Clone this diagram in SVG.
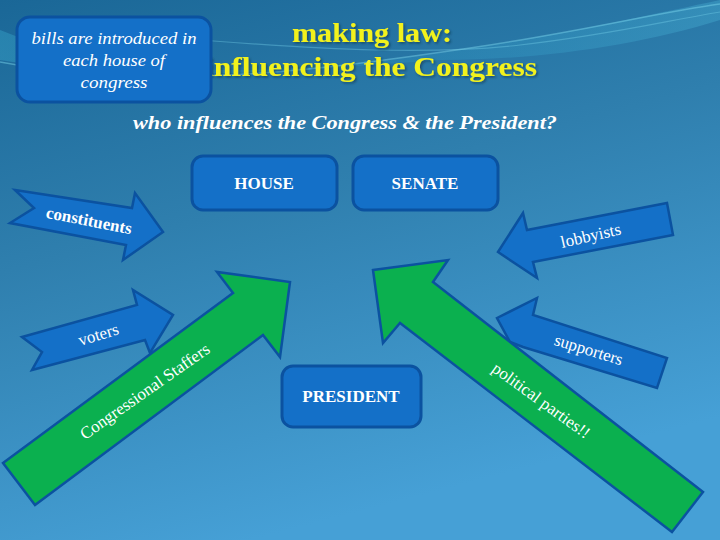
<svg xmlns="http://www.w3.org/2000/svg" width="720" height="540" viewBox="0 0 720 540">
<defs>
<linearGradient id="bg" x1="0" y1="0" x2="0.35" y2="1">
<stop offset="0" stop-color="#1a6797"/>
<stop offset="0.45" stop-color="#2f7fae"/>
<stop offset="1" stop-color="#46a0d6"/>
</linearGradient>
<linearGradient id="sw" x1="0" y1="0" x2="1" y2="0">
<stop offset="0" stop-color="#3fb6d8" stop-opacity="0.55"/>
<stop offset="0.5" stop-color="#2aa0cc" stop-opacity="0.35"/>
<stop offset="1" stop-color="#50c0e0" stop-opacity="0.5"/>
</linearGradient>
<filter id="sh" x="-5%" y="-20%" width="110%" height="140%">
<feDropShadow dx="1.5" dy="1.5" stdDeviation="1" flood-color="#0a2a40" flood-opacity="0.6"/>
</filter>
</defs>
<style>
.box{fill:#1470c8;stroke:#0b52a0;stroke-width:3}
.barrow{fill:#1470c8;stroke:#0b52a0;stroke-width:2.5;stroke-linejoin:miter}
.garrow{fill:#0bb04f;stroke:#0b52a0;stroke-width:2.5;stroke-linejoin:miter}
.lbl{font-family:"Liberation Serif","DejaVu Serif",serif;fill:#ffffff}
.call{font-family:"Liberation Serif","DejaVu Serif",serif;fill:#ffffff;font-style:italic;font-size:17.5px;text-anchor:middle}
.head{font-family:"Liberation Serif","DejaVu Serif",serif;font-weight:bold;fill:#ffffff;font-size:17px;text-anchor:middle}
.title{font-family:"Liberation Serif","DejaVu Serif",serif;font-weight:bold;fill:#f2f21c;font-size:28px;text-anchor:middle}
.arr{font-family:"Liberation Serif","DejaVu Serif",serif;fill:#ffffff;font-size:17px;text-anchor:middle}
</style>
<rect width="720" height="540" fill="url(#bg)"/>
<path d="M0 30 C150 90 330 70 460 50 C560 35 650 15 720 0 L720 20 C640 45 540 60 440 60 C300 70 150 85 0 60 Z" fill="url(#sw)" opacity="0.6"/>
<path d="M0 62 C160 92 320 70 470 48 C580 32 660 12 720 4" fill="none" stroke="#7fdaf0" stroke-opacity="0.45" stroke-width="1.5"/>
<path d="M200 40 C330 50 430 55 520 45 C610 35 670 20 720 12" fill="none" stroke="#7fdaf0" stroke-opacity="0.35" stroke-width="1.2"/>

<g id="title">
<text class="title" x="372" y="42" textLength="160" lengthAdjust="spacingAndGlyphs" filter="url(#sh)">making law:</text>
<text class="title" x="371" y="76" textLength="332" lengthAdjust="spacingAndGlyphs" filter="url(#sh)">influencing the Congress</text>
</g>

<g id="callout">
<rect class="box" x="17" y="17" width="194" height="85" rx="13"/>
<text class="call" x="114" y="44" textLength="165" lengthAdjust="spacingAndGlyphs">bills are introduced in</text>
<text class="call" x="114" y="66" textLength="102" lengthAdjust="spacingAndGlyphs">each house of</text>
<text class="call" x="114" y="88" textLength="67" lengthAdjust="spacingAndGlyphs">congress</text>
</g>

<g id="subtitle">
<text class="lbl" font-style="italic" font-weight="bold" font-size="18" x="133" y="129" textLength="424" lengthAdjust="spacingAndGlyphs">who influences the Congress &amp; the President?</text>
</g>

<g id="house">
<rect class="box" x="192" y="156" width="145" height="54" rx="11"/>
<text class="head" x="264" y="189">HOUSE</text>
</g>
<g id="senate">
<rect class="box" x="353" y="156" width="145" height="54" rx="11"/>
<text class="head" x="425" y="189">SENATE</text>
</g>
<g id="president">
<rect class="box" x="282" y="366" width="139" height="61" rx="11"/>
<text class="head" x="351" y="402">PRESIDENT</text>
</g>

<g id="connectors">
<g id="constituents">
<polygon class="barrow" points="15,190 132,208 135,193 163,232 123,260 126,245 10,223 34,208"/>
<text class="arr" font-weight="bold" transform="translate(88,226) rotate(11)">constituents</text>
</g>
<g id="lobbyists">
<polygon class="barrow" points="498,252 523,213 527,230 667,203 673,235 533,262 537,278"/>
<text class="arr" transform="translate(592,241) rotate(-13)">lobbyists</text>
</g>
<g id="voters">
<polygon class="barrow" points="22,337 137,305 133,290 173,315 150,353 145,340 32,370 42,352"/>
<text class="arr" transform="translate(100,340) rotate(-17)">voters</text>
</g>
<g id="supporters">
<polygon class="barrow" points="497,318 537,298 533,315 667,358 657,388 523,347 510,342"/>
<text class="arr" transform="translate(587,355) rotate(17)">supporters</text>
</g>
<g id="staffers">
<polygon class="garrow" points="3,463 233,293 217,272 290,282 280,357 263,335 35,505"/>
<text class="arr" font-size="18" transform="translate(148,396) rotate(-35)">Congressional Staffers</text>
</g>
<g id="parties">
<polygon class="garrow" points="373,270 448,260 433,282 703,492 672,532 400,323 383,343"/>
<text class="arr" font-size="17" transform="translate(538,405) rotate(36)">political parties!!</text>
</g>
</g>
</svg>
